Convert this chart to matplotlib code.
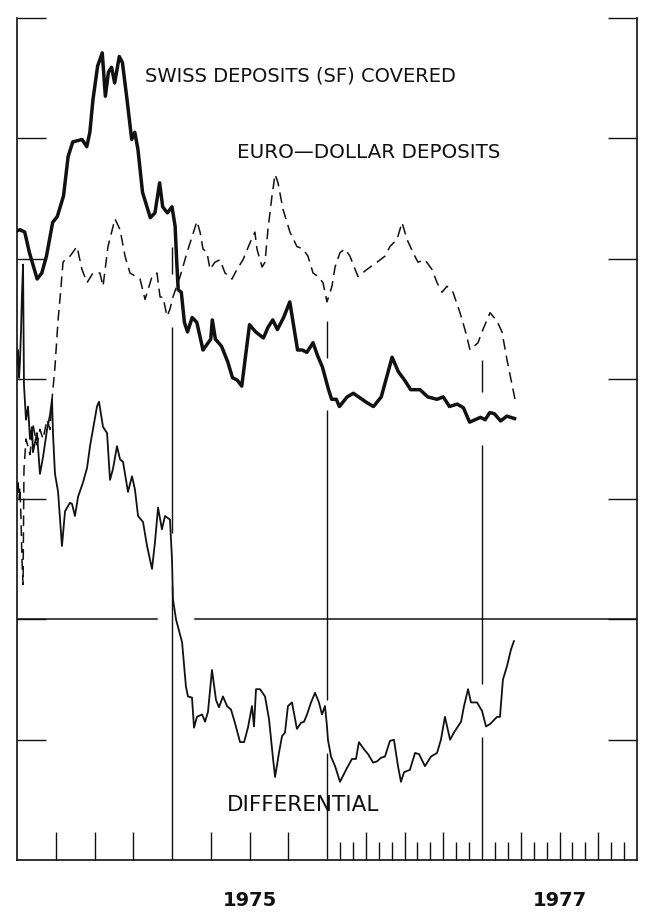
import numpy as np
import matplotlib
matplotlib.use("Agg")
import matplotlib.pyplot as plt
import matplotlib.transforms as mtransforms

# dates as decimal years, values in the chart's own units (one unit per tick)
swiss_dates = [1974.00, 1974.02, 1974.05, 1974.08, 1974.13, 1974.16, 1974.19, 1974.23, 1974.26, 1974.30,
               1974.33, 1974.36, 1974.42, 1974.45, 1974.47, 1974.49, 1974.52, 1974.55, 1974.57, 1974.59,
               1974.61, 1974.63, 1974.66, 1974.68, 1974.71, 1974.74, 1974.76, 1974.78, 1974.81, 1974.86,
               1974.89, 1974.92, 1974.94, 1974.97,
               1975.00, 1975.02, 1975.03, 1975.04, 1975.06, 1975.08, 1975.10, 1975.13, 1975.16, 1975.20,
               1975.25, 1975.26, 1975.28, 1975.32, 1975.36, 1975.39, 1975.42, 1975.45, 1975.50, 1975.54,
               1975.59, 1975.62, 1975.65, 1975.68, 1975.72, 1975.76, 1975.81, 1975.84, 1975.87, 1975.91,
               1975.94, 1975.97,
               1976.01, 1976.03, 1976.06, 1976.08, 1976.13, 1976.17, 1976.26, 1976.30, 1976.35, 1976.42,
               1976.46, 1976.50, 1976.54, 1976.60, 1976.65, 1976.71, 1976.75, 1976.79, 1976.84, 1976.88,
               1976.92, 1976.99,
               1977.02, 1977.05, 1977.08, 1977.12, 1977.16, 1977.21]
swiss_rate = [3.23, 3.24, 3.22, 3.05, 2.83, 2.88, 3.02, 3.30, 3.35, 3.52,
              3.85, 3.97, 3.99, 3.93, 4.05, 4.32, 4.60, 4.71, 4.35, 4.55,
              4.59, 4.46, 4.68, 4.63, 4.32, 3.99, 4.05, 3.91, 3.55, 3.34,
              3.38, 3.63, 3.43, 3.38,
              3.43, 3.27, 2.99, 2.74, 2.72, 2.47, 2.39, 2.51, 2.47, 2.24,
              2.33, 2.49, 2.33, 2.27, 2.14, 2.01, 1.99, 1.94, 2.45, 2.39,
              2.34, 2.43, 2.49, 2.41, 2.51, 2.64, 2.24, 2.24, 2.22, 2.30,
              2.19, 2.10,
              1.91, 1.83, 1.83, 1.77, 1.85, 1.88, 1.80, 1.77, 1.85, 2.18,
              2.06, 1.99, 1.91, 1.91, 1.85, 1.83, 1.85, 1.77, 1.79, 1.76,
              1.64, 1.68,
              1.66, 1.72, 1.71, 1.65, 1.69, 1.67]

euro_dates = [1974.000, 1974.006, 1974.013, 1974.019, 1974.026, 1974.032, 1974.039, 1974.045, 1974.058, 1974.084,
              1974.103, 1974.129, 1974.148, 1974.168, 1974.194, 1974.213, 1974.226, 1974.245, 1974.265, 1974.277,
              1974.297, 1974.323, 1974.342, 1974.387, 1974.419, 1974.452, 1974.490, 1974.535, 1974.555, 1974.587,
              1974.632, 1974.665, 1974.697, 1974.729, 1974.794, 1974.826, 1974.871, 1974.903, 1974.923, 1974.942,
              1974.968, 1974.987, 1975.006, 1975.052, 1975.097, 1975.129, 1975.161, 1975.181, 1975.200, 1975.226,
              1975.245, 1975.277, 1975.310, 1975.342, 1975.387, 1975.419, 1975.458, 1975.503, 1975.535, 1975.548,
              1975.581, 1975.600, 1975.619, 1975.645, 1975.665, 1975.684, 1975.716, 1975.761, 1975.806, 1975.845,
              1975.877, 1975.910, 1975.942, 1975.974, 1976.000, 1976.032, 1976.052, 1976.084, 1976.116, 1976.148,
              1976.200, 1976.258, 1976.323, 1976.374, 1976.406, 1976.452, 1976.484, 1976.516, 1976.555, 1976.587,
              1976.632, 1976.677, 1976.710, 1976.742, 1976.774, 1976.813, 1976.858, 1976.890, 1976.923, 1976.974,
              1977.006, 1977.052, 1977.097, 1977.129, 1977.161, 1977.213]
euro_rate = [1.04, 1.16, 1.00, 1.10, 0.83, 0.50, 0.29, 1.25, 1.50, 1.37,
             1.62, 1.45, 1.58, 1.50, 1.66, 1.58, 1.83, 2.10, 2.49, 2.66,
             2.97, 3.01, 3.02, 3.10, 2.91, 2.80, 2.88, 2.88, 2.77, 3.10,
             3.33, 3.24, 3.02, 2.88, 2.83, 2.66, 2.85, 2.88, 2.68, 2.68,
             2.52, 2.58, 2.68, 2.85, 3.05, 3.18, 3.31, 3.22, 3.08, 3.05,
             2.91, 2.97, 2.99, 2.88, 2.83, 2.91, 2.99, 3.13, 3.22, 3.08,
             2.93, 2.97, 3.24, 3.52, 3.70, 3.63, 3.41, 3.22, 3.10, 3.08,
             3.02, 2.88, 2.85, 2.80, 2.64, 2.77, 2.93, 3.05, 3.08, 3.02,
             2.85, 2.91, 2.97, 3.02, 3.10, 3.16, 3.30, 3.16, 3.05, 2.97,
             2.99, 2.91, 2.80, 2.72, 2.77, 2.72, 2.55, 2.41, 2.24, 2.30,
             2.41, 2.55, 2.48, 2.39, 2.16, 1.83]

diff_dates = [1974.000, 1974.006, 1974.013, 1974.019, 1974.026, 1974.032, 1974.039, 1974.045, 1974.058, 1974.071,
              1974.084, 1974.097, 1974.103, 1974.129, 1974.148, 1974.168, 1974.194, 1974.213, 1974.226, 1974.232,
              1974.245, 1974.265, 1974.290, 1974.310, 1974.342, 1974.355, 1974.374, 1974.394, 1974.426, 1974.452,
              1974.471, 1974.490, 1974.516, 1974.529, 1974.555, 1974.581, 1974.600, 1974.619, 1974.645, 1974.665,
              1974.684, 1974.716, 1974.742, 1974.761, 1974.781, 1974.813, 1974.839, 1974.871, 1974.890, 1974.910,
              1974.935, 1974.955, 1974.987, 1975.000, 1975.006, 1975.026, 1975.065, 1975.090, 1975.103, 1975.129,
              1975.142, 1975.161, 1975.194, 1975.213, 1975.232, 1975.258, 1975.284, 1975.303, 1975.329, 1975.355,
              1975.381, 1975.406, 1975.439, 1975.465, 1975.490, 1975.516, 1975.529, 1975.542, 1975.568, 1975.600,
              1975.626, 1975.652, 1975.665, 1975.690, 1975.710, 1975.729, 1975.748, 1975.774, 1975.806, 1975.832,
              1975.852, 1975.871, 1975.897, 1975.923, 1975.948, 1975.968, 1975.987, 1976.000, 1976.006, 1976.026,
              1976.052, 1976.084, 1976.123, 1976.161, 1976.187, 1976.206, 1976.239, 1976.265, 1976.297, 1976.323,
              1976.348, 1976.374, 1976.406, 1976.432, 1976.458, 1976.477, 1976.497, 1976.535, 1976.568, 1976.594,
              1976.632, 1976.671, 1976.710, 1976.735, 1976.761, 1976.794, 1976.819, 1976.865, 1976.884, 1976.910,
              1976.929, 1976.968, 1977.000, 1977.026, 1977.052, 1977.097, 1977.116, 1977.135, 1977.161, 1977.187,
              1977.206]
diff_rate = [2.12, 2.24, 2.01, 2.14, 2.41, 2.70, 2.95, 1.95, 1.66, 1.77,
             1.50, 1.60, 1.39, 1.55, 1.21, 1.35, 1.58, 1.70, 1.83, 1.55,
             1.21, 1.06, 0.61, 0.90, 0.97, 0.96, 0.86, 1.02, 1.14, 1.26,
             1.44, 1.58, 1.77, 1.81, 1.60, 1.55, 1.16, 1.25, 1.44, 1.33,
             1.31, 1.06, 1.19, 1.08, 0.86, 0.81, 0.61, 0.42, 0.64, 0.93,
             0.75, 0.86, 0.83, 0.50, 0.17, 0.00, -0.19, -0.56, -0.64, -0.65,
             -0.90, -0.81, -0.79, -0.85, -0.77, -0.42, -0.67, -0.73, -0.64, -0.72,
             -0.75, -0.86, -1.02, -1.02, -0.90, -0.72, -0.89, -0.58, -0.58, -0.64,
             -0.83, -1.16, -1.31, -1.11, -0.97, -0.94, -0.72, -0.69, -0.91, -0.86,
             -0.85, -0.79, -0.69, -0.61, -0.69, -0.79, -0.72, -0.89, -1.00, -1.14,
             -1.22, -1.35, -1.25, -1.16, -1.16, -1.02, -1.08, -1.12, -1.19, -1.18,
             -1.15, -1.14, -1.01, -1.00, -1.22, -1.35, -1.27, -1.25, -1.11, -1.12,
             -1.22, -1.14, -1.11, -1.00, -0.81, -1.00, -0.94, -0.85, -0.72, -0.58,
             -0.69, -0.69, -0.76, -0.89, -0.87, -0.81, -0.81, -0.50, -0.39, -0.25,
             -0.18]

year_lines = [1975, 1976, 1977]
year_labels = ["1975", "1977"]
year_label_x = [1975.5, 1977.5]

# how far up the year rules reach (style)
year_line_tops = [3.10, 2.48, 2.16]

ink = "#111111"

fig = plt.figure(figsize=(6.58, 9.13), dpi=100)
ax = fig.add_axes([17 / 658, 1 - 860 / 913, 620 / 658, 842 / 913])
ax.set_xlim(1974, 1978)
ax.set_ylim(-2, 5)

series = [(swiss_dates, swiss_rate), (euro_dates, euro_rate), (diff_dates, diff_rate)]

# year rules, broken where a curve passes through them
half_gap = 0.22
for x, top in zip(year_lines, year_line_tops):
    cuts = sorted(np.interp(x, d, v) for d, v in series if d[0] <= x <= d[-1])
    lo = -2
    for c in cuts:
        if c - half_gap > lo and c < top:
            ax.vlines(x, lo, c - half_gap, color=ink, lw=1.0)
            lo = c + half_gap
    if lo < top:
        ax.vlines(x, lo, top, color=ink, lw=1.0)

# zero line for the differential, with a gap where the curve crosses it
d_arr = np.array(diff_dates)
cross = d_arr[np.argmax(np.array(diff_rate) <= 0)]
ax.plot([1974, cross - 0.12], [0, 0], color=ink, lw=1.1)
ax.plot([cross + 0.12, 1978], [0, 0], color=ink, lw=1.1)

ax.plot(swiss_dates, swiss_rate, color=ink, lw=2.5, solid_joinstyle="round")
ax.plot(euro_dates, euro_rate, color=ink, lw=1.1, dashes=(7, 4))
ax.plot(diff_dates, diff_rate, color=ink, lw=1.3, solid_joinstyle="round")

ax.text(1974.826, 4.52, "SWISS DEPOSITS (SF) COVERED", fontsize=14, ha="left", va="center", color=ink)
ax.text(1975.419, 3.88, "EURO\u2014DOLLAR DEPOSITS", fontsize=14.3, ha="left", va="center", color=ink)
ax.text(1975.355, -1.54, "DIFFERENTIAL", fontsize=15.5, ha="left", va="center", color=ink)

trans = mtransforms.blended_transform_factory(ax.transData, ax.transAxes)
for lab, x in zip(year_labels, year_label_x):
    ax.text(x, -0.048, lab, transform=trans, fontsize=14, fontweight="bold",
            ha="center", va="center", color=ink)

# ticks
ax.set_yticks(range(-1, 6))
ax.tick_params(axis="y", direction="in", length=21, width=1.0, left=True, right=True,
               labelleft=False, labelright=False, color=ink)
quarters = [1974 + q / 4 for q in range(1, 16) if q % 4]
months = [1976 + m / 12 for m in range(1, 24) if m % 3]
ax.set_xticks(quarters)
ax.set_xticks(months, minor=True)
ax.tick_params(axis="x", which="major", direction="in", length=20, width=1.0, labelbottom=False, color=ink)
ax.tick_params(axis="x", which="minor", direction="in", length=13, width=1.0, color=ink)

ax.spines["top"].set_visible(False)
for s in ["left", "right", "bottom"]:
    ax.spines[s].set_linewidth(1.2)
    ax.spines[s].set_color(ink)

fig.savefig("out.png", dpi=100)
